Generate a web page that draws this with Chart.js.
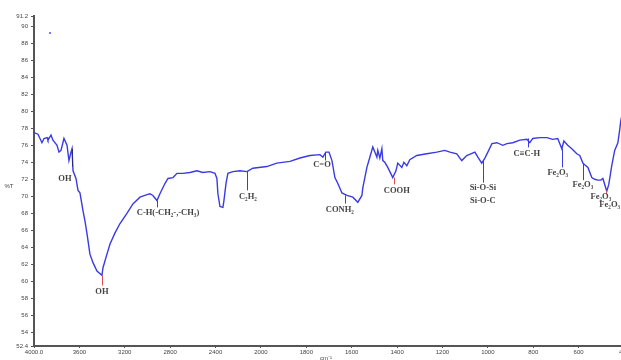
<!DOCTYPE html>
<html>
<head>
<meta charset="utf-8">
<script src="https://cdn.jsdelivr.net/npm/chart.js@4/dist/chart.umd.min.js"></script>
<style>
  html, body { margin: 0; padding: 0; overflow: hidden; background: #fff; }
  canvas { display: block; }
</style>
</head>
<body>
<canvas id="ftir" width="640" height="360"></canvas>
<script>
// FTIR spectrum (wavenumber cm-1, %T)
const wavenumbers = [
  4000, 3965, 3930, 3912, 3885, 3877, 3850, 3833, 3797, 3780, 3762, 3736, 3709, 3692, 3674, 3665,
  3656, 3630, 3612, 3595, 3568, 3551, 3533, 3507, 3480, 3445, 3401, 3392, 3357, 3330, 3286, 3242,
  3181, 3128, 3066, 3004, 2978, 2952, 2916, 2890, 2846, 2819, 2775, 2740, 2687, 2626, 2564, 2511,
  2449, 2405, 2388, 2379, 2361, 2335, 2326, 2308, 2291, 2247, 2185, 2123, 2071, 1974, 1930, 1872,
  1828, 1784, 1740, 1727, 1714, 1700, 1687, 1674, 1661, 1643, 1621, 1595, 1573, 1555, 1551, 1533,
  1520, 1507, 1498, 1489, 1485, 1476, 1467, 1463, 1454, 1441, 1419, 1405, 1397, 1379, 1370, 1357,
  1344, 1313, 1269, 1225, 1190, 1167, 1137, 1115, 1093, 1057, 1044, 1027, 1013, 1000, 982, 960,
  934, 916, 890, 859, 828, 815, 802, 771, 740, 714, 692, 674, 665, 648, 630, 608,
  595, 581, 573, 559, 542, 529, 515, 502, 493, 476, 467, 454, 441, 427, 419, 414, 400
];
const transmittance = [
  77.5, 77.3, 76.3, 76.8, 76.9, 76.6, 77.2, 76.6, 76.0, 75.2, 75.4, 76.8, 76.0, 74.2, 75.2, 75.6,
  73.0, 72.1, 70.7, 70.4, 68.3, 67.1, 65.6, 63.2, 62.2, 61.2, 60.7, 61.6, 63.2, 64.4, 65.7, 66.8,
  68.0, 69.1, 69.9, 70.2, 70.3, 70.1, 69.5, 70.3, 71.5, 72.1, 72.2, 72.7, 72.7, 72.8, 73.0, 72.8,
  72.9, 72.7, 72.1, 70.3, 68.8, 68.7, 69.5, 71.5, 72.7, 72.9, 73.0, 72.9, 73.3, 73.5, 73.9, 74.1,
  74.5, 74.8, 74.9, 74.6, 75.2, 75.2, 74.2, 72.2, 71.5, 70.4, 70.1, 69.9, 69.3, 70.1, 71.0, 73.4,
  74.6, 75.8, 75.2, 74.6, 75.4, 74.5, 75.6, 74.2, 74.0, 73.4, 72.2, 73.0, 73.9, 73.4, 74.0, 73.6,
  74.3, 74.8, 75.0, 75.2, 75.4, 75.2, 75.0, 74.2, 74.8, 75.2, 74.6, 73.9, 74.5, 75.2, 76.2, 76.3,
  76.0, 76.2, 76.3, 76.6, 76.7, 76.3, 76.8, 76.9, 76.9, 76.7, 76.8, 75.6, 76.5, 76.0, 75.6, 75.0,
  74.8, 73.9, 73.7, 73.4, 72.2, 72.0, 71.9, 71.9, 72.1, 70.6, 71.4, 73.6, 75.4, 76.3, 77.8, 78.9, 80.7
];
// lone stray point near the top left
const strayWn = [3859];
const strayT = [89.2];

const xTickWn = [4000, 3600, 3200, 2800, 2400, 2000, 1800, 1600, 1400, 1200, 1000, 800, 600, 400];
const xTickLabels = ['4000.0', '3600', '3200', '2800', '2400', '2000', '1800', '1600', '1400', '1200', '1000', '800', '600', '400'];
const yTicks = [52.4, 54, 56, 58, 60, 62, 64, 66, 68, 70, 72, 74, 76, 78, 80, 82, 84, 86, 88, 90, 91.2];

// band assignments: marker line (wn, from %T, to %T) and label position (wn, %T)
const bands = [
  { text: 'OH', wn: 3665, from: 75.6, to: 73.5, tx: 3727, ty: 72.1, color: '#2a2a80' },
  { text: 'OH', wn: 3401, from: 60.7, to: 59.5, tx: 3401, ty: 58.8, color: '#e05050' },
  { text: 'C-H(-CH\u2082-,-CH\u2083)', wn: 2916, from: 69.5, to: 68.7, tx: 2819, ty: 68.1, color: '#3a3ae6' },
  { text: 'C\u2082H\u2082', wn: 2123, from: 72.9, to: 70.7, tx: 2115, ty: 70.0, color: '#3a3ae6' },
  { text: 'C=O', wn: 1718, from: 75.2, to: 74.2, tx: 1731, ty: 73.75, color: '#3a3ae6' },
  { text: 'CONH\u2082', wn: 1630, from: 70.1, to: 69.15, tx: 1652, ty: 68.4, color: '#3a3ae6' },
  { text: 'COOH', wn: 1414, from: 72.2, to: 71.4, tx: 1401, ty: 70.6, color: '#e05050' },
  { text: 'Si-O-Si', wn: 1022, from: 74.2, to: 71.6, tx: 1022, ty: 71.0, color: '#3a3ae6' },
  { text: 'Si-O-C', wn: null, tx: 1022, ty: 69.5 },
  { text: 'C\u2261C-H', wn: 824, from: 76.8, to: 75.75, tx: 828, ty: 75.05, color: '#3a3ae6' },
  { text: 'Fe\u2082O\u2083', wn: 674, from: 75.6, to: 73.4, tx: 692, ty: 72.8, color: '#3a3ae6' },
  { text: 'Fe\u2082O\u2083', wn: 581, from: 73.9, to: 71.9, tx: 581, ty: 71.3, color: '#3a3ae6' },
  { text: 'Fe\u2082O\u2083', wn: 480, from: 70.7, to: 70.2, tx: 502, ty: 70.0, color: '#e05050' },
  { text: 'Fe\u2082O\u2083', wn: null, tx: 463, ty: 69.0 }
];

// the spectrometer axis is compressed above 2000 cm-1 (400 per division) and 200 per division below
function toPos(wn) {
  return wn >= 2000 ? (4000 - wn) / 400 : 5 + (2000 - wn) / 200;
}

const bandLabels = {
  id: 'bandLabels',
  afterDatasetsDraw(chart) {
    const { ctx, scales: { x, y } } = chart;
    ctx.save();
    bands.forEach(b => {
      if (b.wn !== null) {
        const px = Math.round(x.getPixelForValue(toPos(b.wn))) + 0.5;
        ctx.strokeStyle = b.color;
        ctx.lineWidth = 1;
        ctx.beginPath();
        ctx.moveTo(px, y.getPixelForValue(b.from));
        ctx.lineTo(px, y.getPixelForValue(b.to));
        ctx.stroke();
      }
      ctx.font = 'bold 8.5px "Liberation Serif", "DejaVu Serif", serif';
      ctx.fillStyle = '#444';
      ctx.textAlign = 'center';
      ctx.textBaseline = 'middle';
      ctx.fillText(b.text, x.getPixelForValue(toPos(b.tx)), y.getPixelForValue(b.ty));
    });
    // axis titles
    ctx.font = '6px "Liberation Sans", sans-serif';
    ctx.fillStyle = '#444';
    ctx.fillText('%T', 9, y.getPixelForValue(71.2));
    ctx.fillText('cm\u207B\u00B9', 326, 358);
    ctx.restore();
  }
};

const ctx = document.getElementById('ftir').getContext('2d');
new Chart(ctx, {
  type: 'line',
  data: {
    datasets: [{
      data: wavenumbers.map((w, i) => ({ x: toPos(w), y: transmittance[i] })),
      borderColor: '#3a3ae6',
      borderWidth: 1.4,
      pointRadius: 0,
      tension: 0,
      fill: false
    }, {
      data: strayWn.map((w, i) => ({ x: toPos(w), y: strayT[i] })),
      showLine: false,
      pointRadius: 1,
      pointBorderWidth: 0,
      backgroundColor: '#5050f0'
    }]
  },
  options: {
    responsive: false,
    animation: false,
    layout: { padding: { top: 16, right: 16, left: 0, bottom: 0 } },
    plugins: {
      legend: { display: false },
      tooltip: { enabled: false }
    },
    scales: {
      x: {
        type: 'linear',
        min: 0,
        max: 13,
        border: { color: '#555', width: 2 },
        grid: { drawOnChartArea: false, drawTicks: true, tickLength: 2, color: '#555' },
        ticks: {
          autoSkip: false,
          maxRotation: 0,
          padding: 1,
          color: '#444',
          font: { size: 6, family: '"Liberation Sans", sans-serif' },
          callback: (v, i) => xTickLabels[i]
        },
        afterBuildTicks: s => { s.ticks = xTickWn.map(w => ({ value: toPos(w) })); },
        afterFit: s => { s.height = 14; }
      },
      y: {
        min: 52.4,
        max: 91.2,
        border: { color: '#555', width: 2 },
        grid: { drawOnChartArea: false, drawTicks: true, tickLength: 3, color: '#555' },
        ticks: {
          autoSkip: false,
          padding: 3,
          color: '#444',
          font: { size: 6, family: '"Liberation Sans", sans-serif' },
          callback: v => String(v)
        },
        afterBuildTicks: s => { s.ticks = yTicks.map(v => ({ value: v })); },
        afterFit: s => { s.width = 34; }
      }
    }
  },
  plugins: [bandLabels]
});
</script>
</body>
</html>
